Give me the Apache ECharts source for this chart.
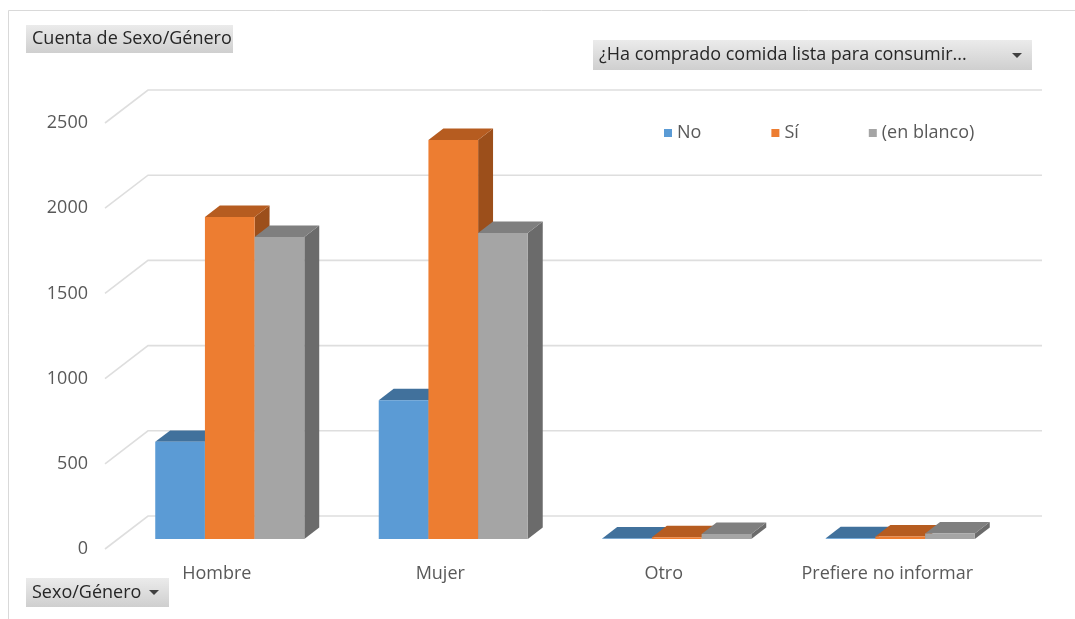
<!DOCTYPE html>
<html>
<head>
<meta charset="utf-8">
<script src="https://cdn.jsdelivr.net/npm/echarts@6/dist/echarts.min.js"></script>
<style>
html,body{margin:0;padding:0;background:#fff;}
#chart{width:1075px;height:619px;}
</style>
</head>
<body>
<div id="chart"></div>
<script>
var categories = ['Hombre', 'Mujer', 'Otro', 'Prefiere no informar'];
var seriesNames = ['No', 'Sí', '(en blanco)'];
var valuesNo = [570, 815, 3, 4];
var valuesSi = [1890, 2342, 10, 15];
var valuesBlanco = [1772, 1796, 30, 32];
var yTicks = [0, 500, 1000, 1500, 2000, 2500];

var FONT = '"Open Sans"';
var FS = 18;
var DEPTH = [43, -33];      // floor depth (px)
var F_FRONT = 0.303;        // bar front plane fraction of depth
var F_BACK = 0.65;          // bar back plane fraction of depth
var GROUP = 0.667;          // fraction of band used by a cluster

var palettes = [
  {front: '#5b9bd5', top: '#41719c', side: '#3d6a94'},
  {front: '#ed7d31', top: '#b65c20', side: '#9c4f1b'},
  {front: '#a5a5a5', top: '#7f7f7f', side: '#6b6b6b'}
];
var allValues = [valuesNo, valuesSi, valuesBlanco];

function barRenderer(sIdx) {
  return function (params, api) {
    var cat = api.value(0), v = api.value(1);
    var base = api.coord([cat, 0]);
    var topP = api.coord([cat, v]);
    var band = api.size([1, 0])[0];
    var gw = band * GROUP, bw = gw / 3;
    var fx = DEPTH[0] * F_FRONT, fy = DEPTH[1] * F_FRONT;
    var bx = DEPTH[0] * F_BACK, by = DEPTH[1] * F_BACK;
    var x0 = base[0] - gw / 2 + sIdx * bw;
    var x1 = x0 + bw;
    var yb = base[1], yt = topP[1];
    var pal = palettes[sIdx];
    var front = [[x0 + fx, yt + fy], [x1 + fx, yt + fy], [x1 + fx, yb + fy], [x0 + fx, yb + fy]];
    var top = [[x0 + fx, yt + fy], [x1 + fx, yt + fy], [x1 + bx, yt + by], [x0 + bx, yt + by]];
    var side = [[x1 + fx, yt + fy], [x1 + bx, yt + by], [x1 + bx, yb + by], [x1 + fx, yb + fy]];
    return {
      type: 'group',
      children: [
        {type: 'polygon', shape: {points: side}, style: {fill: pal.side}},
        {type: 'polygon', shape: {points: top}, style: {fill: pal.top}},
        {type: 'polygon', shape: {points: front}, style: {fill: pal.front}}
      ]
    };
  };
}

function gridRenderer(params, api) {
  var v = api.value(1);
  var p = api.coord([0, v]);
  var cs = params.coordSys;
  var x = cs.x, y = p[1];
  return {
    type: 'polyline',
    shape: {points: [[x, y], [x + DEPTH[0], y + DEPTH[1]], [x + DEPTH[0] + cs.width, y + DEPTH[1]]]},
    style: {stroke: '#dedede', lineWidth: 1.6, fill: null}
  };
}

var series = [{
  type: 'custom',
  name: 'grid',
  renderItem: gridRenderer,
  data: yTicks.map(function (t) { return [0, t]; }),
  encode: {x: 0, y: 1},
  z: 1,
  silent: true
}];
seriesNames.forEach(function (n, i) {
  series.push({
    type: 'custom',
    name: n,
    renderItem: barRenderer(i),
    itemStyle: {color: palettes[i].front},
    data: allValues[i].map(function (v, c) { return [c, v]; }),
    encode: {x: 0, y: 1},
    z: 2 + i
  });
});

function boxGrad() {
  return new echarts.graphic.LinearGradient(0, 0, 0, 1, [
    {offset: 0, color: '#ebebeb'}, {offset: 1, color: '#cfcfcf'}
  ]);
}

var chart = echarts.init(document.getElementById('chart'), null, {renderer: 'canvas'});
chart.setOption({
  backgroundColor: '#ffffff',
  animation: false,
  textStyle: {fontFamily: FONT},
  grid: {left: 105, right: 76, top: 123, bottom: 70, containLabel: false},
  xAxis: {
    type: 'category',
    data: categories,
    axisLine: {show: false},
    axisTick: {show: false},
    axisLabel: {color: '#595959', fontSize: FS, fontFamily: FONT, margin: 16}
  },
  yAxis: {
    type: 'value',
    min: 0, max: 2500, interval: 500,
    axisLine: {show: false},
    axisTick: {show: false},
    splitLine: {show: false},
    axisLabel: {color: '#595959', fontSize: FS, fontFamily: FONT, margin: 17, padding: [0, 0, 8, 0],
      formatter: function (v) { return String(v); }}
  },
  legend: {
    data: seriesNames,
    left: 659, top: 119,
    itemWidth: 8, itemHeight: 8, itemGap: 70,
    icon: 'rect',
    textStyle: {color: '#595959', fontSize: FS, fontFamily: FONT}
  },
  graphic: [
    {type: 'line', shape: {x1: 8.5, y1: 10.5, x2: 1075, y2: 10.5}, style: {stroke: '#d9d9d9', lineWidth: 1}, silent: true},
    {type: 'line', shape: {x1: 8.5, y1: 10.5, x2: 8.5, y2: 619}, style: {stroke: '#d9d9d9', lineWidth: 1}, silent: true},
    {type: 'group', left: 26, top: 25, children: [
      {type: 'rect', shape: {x: 0, y: 0, width: 207, height: 28}, style: {fill: boxGrad()}},
      {type: 'text', x: 6, y: 14, style: {text: 'Cuenta de Sexo/Género', fill: '#262626', font: FS + 'px ' + FONT, textVerticalAlign: 'middle'}}
    ]},
    {type: 'group', left: 593, top: 40, children: [
      {type: 'rect', shape: {x: 0, y: 0, width: 439, height: 30}, style: {fill: boxGrad()}},
      {type: 'text', x: 6, y: 15, style: {text: '¿Ha comprado comida lista para consumir...', fill: '#262626', font: FS + 'px ' + FONT, textVerticalAlign: 'middle'}},
      {type: 'polygon', shape: {points: [[419, 13], [429, 13], [424, 18]]}, style: {fill: '#404040'}}
    ]},
    {type: 'group', left: 26, top: 578, children: [
      {type: 'rect', shape: {x: 0, y: 0, width: 143, height: 29}, style: {fill: boxGrad()}},
      {type: 'text', x: 6, y: 14.5, style: {text: 'Sexo/Género', fill: '#262626', font: FS + 'px ' + FONT, textVerticalAlign: 'middle'}},
      {type: 'polygon', shape: {points: [[123, 12], [133, 12], [128, 17]]}, style: {fill: '#404040'}}
    ]}
  ],
  series: series
});
</script>
</body>
</html>
